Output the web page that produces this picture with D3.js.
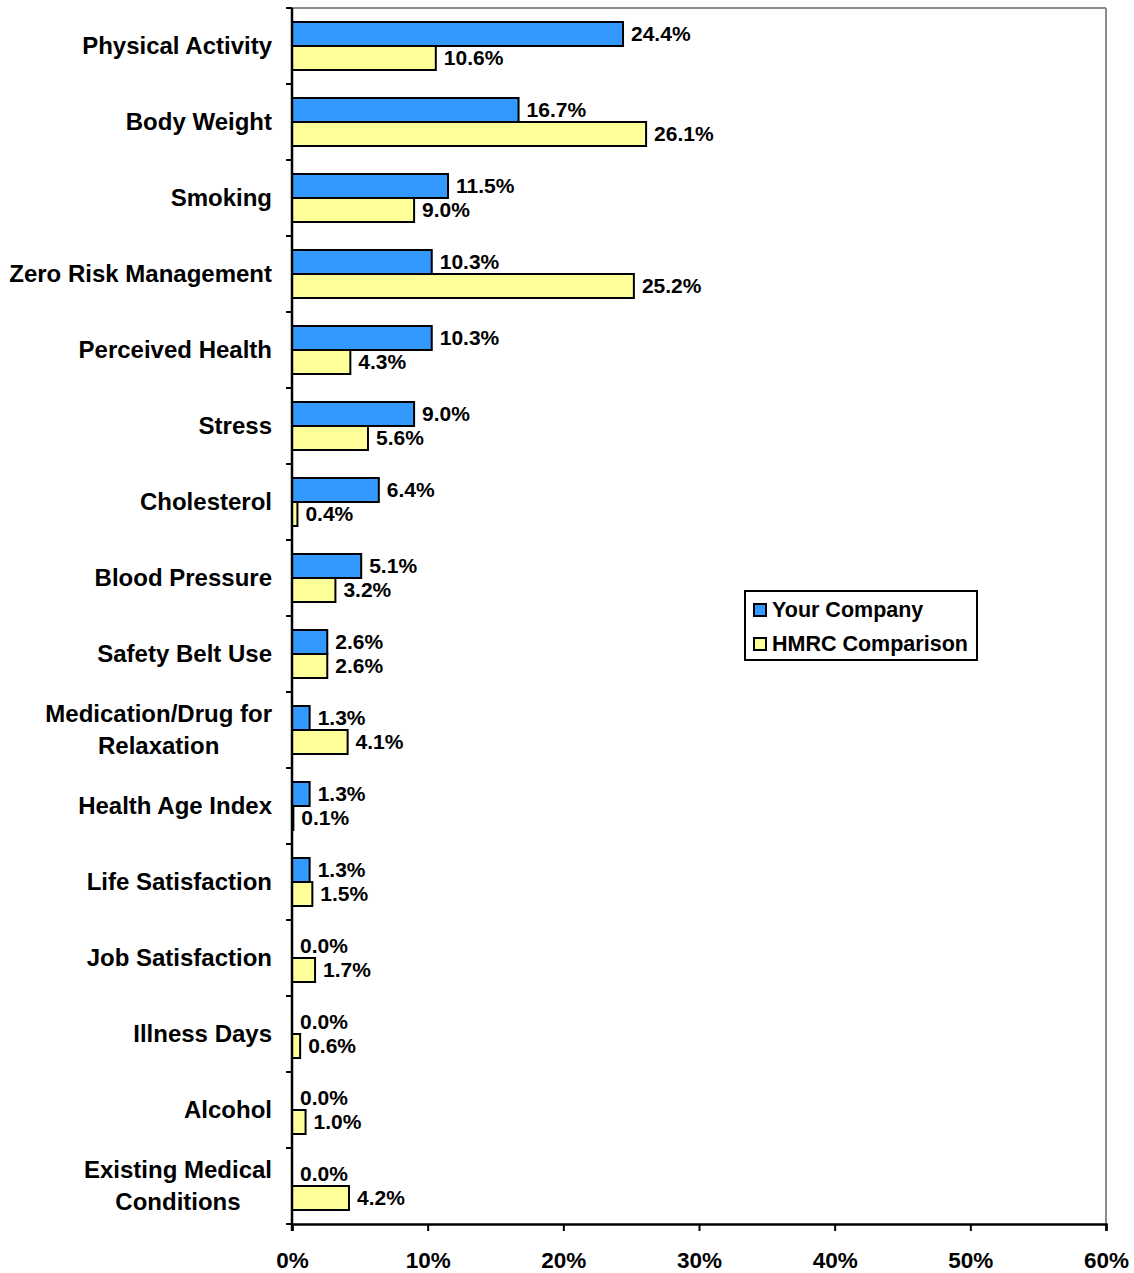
<!DOCTYPE html>
<html>
<head>
<meta charset="utf-8">
<script src="https://cdn.jsdelivr.net/npm/d3@7"></script>
<style>
  html, body { margin: 0; padding: 0; background: #fff; }
  svg { display: block; font-family: "Liberation Sans", Arial, sans-serif; font-weight: bold; }
</style>
</head>
<body>
<svg id="chart" width="1134" height="1273"></svg>
<script>
// Health risk categories, top to bottom
const categories = [
  ["Physical Activity"],
  ["Body Weight"],
  ["Smoking"],
  ["Zero Risk Management"],
  ["Perceived Health"],
  ["Stress"],
  ["Cholesterol"],
  ["Blood Pressure"],
  ["Safety Belt Use"],
  ["Medication/Drug for", "Relaxation"],
  ["Health Age Index"],
  ["Life Satisfaction"],
  ["Job Satisfaction"],
  ["Illness Days"],
  ["Alcohol"],
  ["Existing Medical", "Conditions"]
];
const yourCompany = [24.4, 16.7, 11.5, 10.3, 10.3, 9.0, 6.4, 5.1, 2.6, 1.3, 1.3, 1.3, 0.0, 0.0, 0.0, 0.0];
const hmrcComparison = [10.6, 26.1, 9.0, 25.2, 4.3, 5.6, 0.4, 3.2, 2.6, 4.1, 0.1, 1.5, 1.7, 0.6, 1.0, 4.2];
const seriesNames = ["Your Company", "HMRC Comparison"];
const xTicks = [0, 10, 20, 30, 40, 50, 60];

const colors = ["#3399FF", "#FFFF99"];
const series = [yourCompany, hmrcComparison];

const svg = d3.select("#chart");
const plot = { left: 292, right: 1106, top: 8, bottom: 1224 };

const x = d3.scaleLinear().domain([0, 60]).range([plot.left, plot.right]);
const y = d3.scaleBand().domain(d3.range(categories.length)).range([plot.top, plot.bottom]).padding(0);
const barH = 24, barPad = 14;

// Plot frame: grey top and right edges
svg.append("line").attr("x1", plot.left).attr("x2", plot.right).attr("y1", plot.top).attr("y2", plot.top)
  .attr("stroke", "#8c8c8c").attr("stroke-width", 2);
svg.append("line").attr("x1", plot.right).attr("x2", plot.right).attr("y1", plot.top).attr("y2", plot.bottom)
  .attr("stroke", "#8c8c8c").attr("stroke-width", 2);

// Bars and value labels
series.forEach((vals, s) => {
  const g = svg.append("g");
  g.selectAll("rect").data(vals).join("rect")
    .attr("x", x(0))
    .attr("y", (d, i) => y(i) + barPad + s * barH)
    .attr("width", d => x(d) - x(0))
    .attr("height", barH)
    .attr("fill", colors[s])
    .attr("stroke", d => d > 0 ? "#000" : "none")
    .attr("stroke-width", 2);
  g.selectAll("text").data(vals).join("text")
    .attr("x", d => x(d) + 8)
    .attr("y", (d, i) => y(i) + barPad + s * barH + barH / 2)
    .attr("dy", "0.33em")
    .attr("font-size", 21)
    .attr("fill", "#000")
    .text(d => d.toFixed(1) + "%");
});

// Y axis with ticks at category boundaries
const yAxis = svg.append("g");
yAxis.append("line").attr("x1", plot.left).attr("x2", plot.left).attr("y1", plot.top).attr("y2", plot.bottom + 7)
  .attr("stroke", "#000").attr("stroke-width", 2.5);
yAxis.selectAll("line.tick").data(d3.range(categories.length + 1)).join("line")
  .attr("class", "tick")
  .attr("x1", plot.left - 6).attr("x2", plot.left)
  .attr("y1", i => plot.top + i * y.step()).attr("y2", i => plot.top + i * y.step())
  .attr("stroke", "#000").attr("stroke-width", 2);

// Category labels (two-line labels are centred under their first line)
const labelG = svg.append("g");
const labelSize = 24;
categories.forEach((lines, i) => {
  const cy = y(i) + y.bandwidth() / 2;
  if (lines.length === 1) {
    labelG.append("text").attr("x", 272).attr("y", cy).attr("dy", "0.34em")
      .attr("text-anchor", "end").attr("font-size", labelSize).text(lines[0]);
  } else {
    const t = labelG.append("text").attr("font-size", labelSize).attr("text-anchor", "middle");
    const tmp = t.append("tspan").text(lines[0]);
    const w = tmp.node().getComputedTextLength();
    tmp.remove();
    const cx = 272 - w / 2;
    lines.forEach((ln, k) => {
      t.append("tspan").attr("x", cx).attr("y", cy + (k - (lines.length - 1) / 2) * 32)
        .attr("dy", "0.34em").text(ln);
    });
  }
});

// X axis
const xAxis = d3.axisBottom(x).tickValues(xTicks).tickSize(7).tickFormat(d => d + "%");
const xg = svg.append("g").attr("transform", `translate(0,${plot.bottom})`).call(xAxis);
xg.select(".domain").attr("stroke", "#000").attr("stroke-width", 2.5);
xg.selectAll(".tick line").attr("stroke", "#000").attr("stroke-width", 2);
xg.selectAll(".tick text").attr("font-size", 22.5).attr("font-family", "Liberation Sans, Arial, sans-serif")
  .attr("font-weight", "bold").attr("fill", "#000").attr("y", 44).attr("dy", "0");

// Legend
const legend = svg.append("g").attr("transform", "translate(745,591)");
legend.append("rect").attr("width", 232).attr("height", 69).attr("fill", "#fff").attr("stroke", "#000").attr("stroke-width", 2);
seriesNames.forEach((name, s) => {
  const ly = 19 + s * 34;
  legend.append("rect").attr("x", 9).attr("y", ly - 6).attr("width", 12).attr("height", 12)
    .attr("fill", colors[s]).attr("stroke", "#000").attr("stroke-width", 2);
  legend.append("text").attr("x", 27).attr("y", ly).attr("dy", "0.34em").attr("font-size", 21.5).text(name);
});
</script>
</body>
</html>
